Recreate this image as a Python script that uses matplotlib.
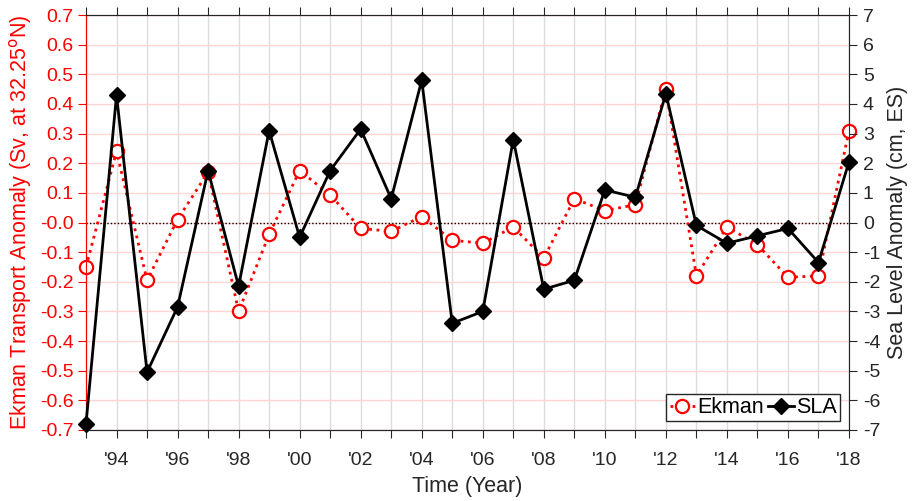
import matplotlib
matplotlib.use("Agg")
import matplotlib.pyplot as plt
import numpy as np

plt.rcParams['font.family'] = ['Liberation Sans', 'DejaVu Sans']
plt.rcParams['axes.unicode_minus'] = False

years = list(range(1993, 2019))
ekman = [-0.15, 0.24, -0.195, 0.01, 0.17, -0.30, -0.04, 0.175, 0.093, -0.02,
         -0.03, 0.02, -0.06, -0.07, -0.015, -0.12, 0.08, 0.04, 0.06, 0.45,
         -0.18, -0.015, -0.075, -0.185, -0.18, 0.31]
sla = [-6.8, 4.3, -5.05, -2.85, 1.75, -2.15, 3.1, -0.5, 1.75, 3.15,
       0.8, 4.8, -3.4, -3.0, 2.8, -2.25, -1.95, 1.1, 0.85, 4.35,
       -0.1, -0.7, -0.45, -0.2, -1.35, 2.05]
year_labels = ["'%02d" % (y % 100) if y % 2 == 0 else "" for y in years]
left_ticks = np.round(np.arange(-0.7, 0.71, 0.1), 1)
right_ticks = list(range(-7, 8))

fig = plt.figure(figsize=(9.13, 5.01), dpi=100)
ax = fig.add_axes([86/913, 1-430/501, (849-86)/913, (430-15)/501])
ax2 = ax.twinx()

# grids
for y in years:
    ax.axvline(y, color='#dcdcdc', lw=1.0, zorder=0)
for t in left_ticks:
    ax.axhline(t, color='#ffd4d4', lw=1.0, zorder=0)
ax.axhline(0, color='black', lw=1.0, ls=(0, (1, 1.5)), zorder=1)

l1, = ax.plot(years, ekman, color='red', ls=':', lw=2.0, marker='o',
              markersize=9.5, markerfacecolor='white', markeredgecolor='red',
              markeredgewidth=1.6, label='Ekman', zorder=3, clip_on=False)
l2, = ax2.plot(years, sla, color='black', ls='-', lw=2.0, marker='D',
               markersize=8, markerfacecolor='black', markeredgecolor='black',
               label='SLA', zorder=4, clip_on=False)

ax.set_xlim(1993, 2018)
ax.set_ylim(-0.7, 0.7)
ax2.set_ylim(-7, 7)
ax.set_xticks(years)
ax.set_xticklabels(year_labels)
ax.set_yticks(left_ticks)
ax.set_yticklabels(['%.1f' % t for t in left_ticks])
ax2.set_yticks(right_ticks)

ax.tick_params(axis='x', direction='out', top=True, length=6, colors='#262626',
               labelsize=14, pad=10)
ax.tick_params(axis='y', direction='out', length=6, colors='red', labelsize=14, pad=3)
ax2.tick_params(axis='y', direction='out', length=6, colors='#262626', labelsize=14, pad=4)

for a in (ax, ax2):
    for s in ['top', 'bottom', 'right']:
        a.spines[s].set_color('#262626')
    a.spines['left'].set_color('red')

ax.set_xlabel('Time (Year)', fontsize=15.5, color='#262626', labelpad=5)
ax.set_ylabel('Ekman Transport Anomaly (Sv, at 32.25$^{\\rm o}$N)', fontsize=15.5,
              color='red', labelpad=4)
ax2.set_ylabel('Sea Level Anomaly (cm, ES)', fontsize=15.5, color='#262626', labelpad=5)

leg = ax2.legend(handles=[l1, l2], loc='lower right', ncol=2, fontsize=15.5,
                 frameon=True, fancybox=False, edgecolor='#262626', framealpha=1,
                 handlelength=1.2, handletextpad=0.1, columnspacing=0.2,
                 borderpad=0.15, borderaxespad=0.4)
leg.get_frame().set_linewidth(1.0)

fig.savefig('out.png', dpi=100)
